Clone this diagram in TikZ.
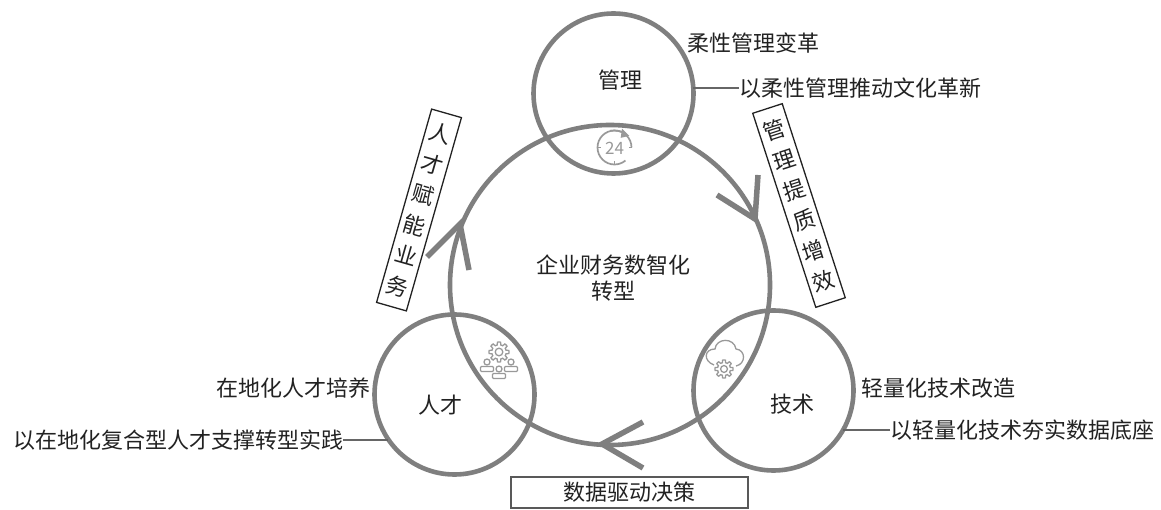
\documentclass[tikz,border=0pt]{standalone}
\usepackage{fontspec}
\setmainfont{Noto Sans CJK SC}
\definecolor{ringgray}{HTML}{7F7F7F}
\definecolor{icongray}{HTML}{999999}
\definecolor{inkdark}{HTML}{222222}
\newcommand{\mygear}[3]{%
  \draw[iconline] plot[domain=0:360,samples=121,smooth] ({#1+#3*(0.86+0.14*max(-1,min(1,3*cos(8*\x))))*cos(\x)},{#2+#3*(0.86+0.14*max(-1,min(1,3*cos(8*\x))))*sin(\x)}) -- cycle;
  \draw[iconline] (#1,#2) circle[radius=0.38*#3];
}
\newcommand{\myperson}[2]{%
  \draw[iconline] (#1,#2-7) circle[radius=3];
  \draw[iconline,rounded corners=1] (#1-6.5,#2-2.5) rectangle (#1+6.5,#2+2.5);
}
\tikzset{
  x=1pt,y=-1pt,
  ring/.style={circle,draw=ringgray,line width=4.6pt,minimum size=160pt,inner sep=0pt,outer sep=0pt},
  bigring/.style={circle,draw=ringgray,line width=4.6pt,minimum size=320pt,inner sep=0pt,outer sep=0pt},
  barb/.style={draw=ringgray,line width=5.5pt,line cap=butt,line join=miter},
  label/.style={text=inkdark,font=\fontsize{22}{26}\selectfont,inner sep=0pt,outer sep=0pt},
  stack/.style={draw=inkdark,line width=1.3pt,text=inkdark,font=\fontsize{22}{31.8}\selectfont,align=center,inner sep=0pt,minimum width=31pt},
  leader/.style={draw=ringgray!80!black,line width=1.4pt},
  iconline/.style={draw=icongray,line width=1.3pt},
}
\begin{document}
\begin{tikzpicture}
\useasboundingbox[fill=white] (0,0) rectangle (1161,510);
% rings
\node[bigring] (big) at (610,285) {};
\node[ring] (mgmt) at (613.5,93.5) {};
\node[ring] (talent) at (454.5,394.5) {};
\node[ring] (tech) at (773.5,390.5) {};
% ring titles
\node[label] (tmgmt) at (620,80) {管理};
\node[label] (ttalent) at (440,405) {人才};
\node[label] (ttech) at (792,404) {技术};
\node[label,align=center] (centre) at (613,278) {企业财务数智化\\转型};
% side texts
\node[label,anchor=west] (a1) at (687,43) {柔性管理变革};
\node[label,anchor=west] (a2) at (739,88) {以柔性管理推动文化革新};
\node[label,anchor=east] (b1) at (370,388) {在地化人才培养};
\node[label,anchor=east] (b2) at (343,440) {以在地化复合型人才支撑转型实践};
\node[label,anchor=west] (c1) at (861,388) {轻量化技术改造};
\node[label,anchor=west] (c2) at (890,430) {以轻量化技术夯实数据底座};
% leaders
\draw[leader] (a2.west) -- (mgmt.4 |- a2.west);
\draw[leader] (b2.east) -- (talent.214.7 |- b2.east);
\draw[leader] (c2.west) -- (tech.330.4 |- c2.west);
% boxed labels
\node[stack,rotate=-15.9,minimum height=201pt] (left) at (419,210) {人\\才\\赋\\能\\业\\务};
\node[stack,rotate=18,minimum height=204pt] (right) at (799,205.5) {管\\理\\提\\质\\增\\效};
\node[draw=ringgray!70!black,line width=1.5pt,text=inkdark,font=\fontsize{22}{26}\selectfont,minimum width=237pt,minimum height=31pt,inner sep=0pt] (bottom) at (629.5,492.5) {数据驱动决策};
% arrowheads
\coordinate (tipR) at (755,219);
\coordinate (tipL) at (460,224);
\coordinate (tipB) at (602,444);
\draw[barb] (758,175) -- (tipR) -- (717,195);
\draw[barb] (427,257) -- (tipL) -- (469,270);
\draw[barb] (643,422) -- (tipB) -- (643,468);
% icon: 24 hours
\draw[iconline,line width=1.7pt] (631.5,147.5) arc[start angle=0,end angle=310,radius=17,y radius=-17];
\draw[iconline,line width=1.7pt] (610,130.8) .. controls (616,130) and (622,131) .. (626,134);
\draw[iconline,fill=icongray] (622.5,130) -- (628,135.5) -- (621.5,137) -- cycle;
\draw[iconline,line width=1.7pt] (597.5,147.5) -- (600.5,147.5) (614.5,164.5) -- (614.5,161.5) (631.5,147.5) -- (628.5,147.5);
\node[text=icongray,font=\fontsize{17}{17}\selectfont,inner sep=0pt] (hours) at (614.5,148.5) {24};
% icon: team gear
\mygear{499}{352}{10}
\myperson{487}{369}
\myperson{511}{369}
\myperson{499}{376}
% icon: cloud gear
\draw[iconline] (714,365) .. controls (703,361) and (704,349) .. (715,349) .. controls (716,338) and (734,337) .. (736,349) .. controls (746,350) and (746,364) .. (736,366);
\mygear{724}{369}{9}
\end{tikzpicture}
\end{document}
